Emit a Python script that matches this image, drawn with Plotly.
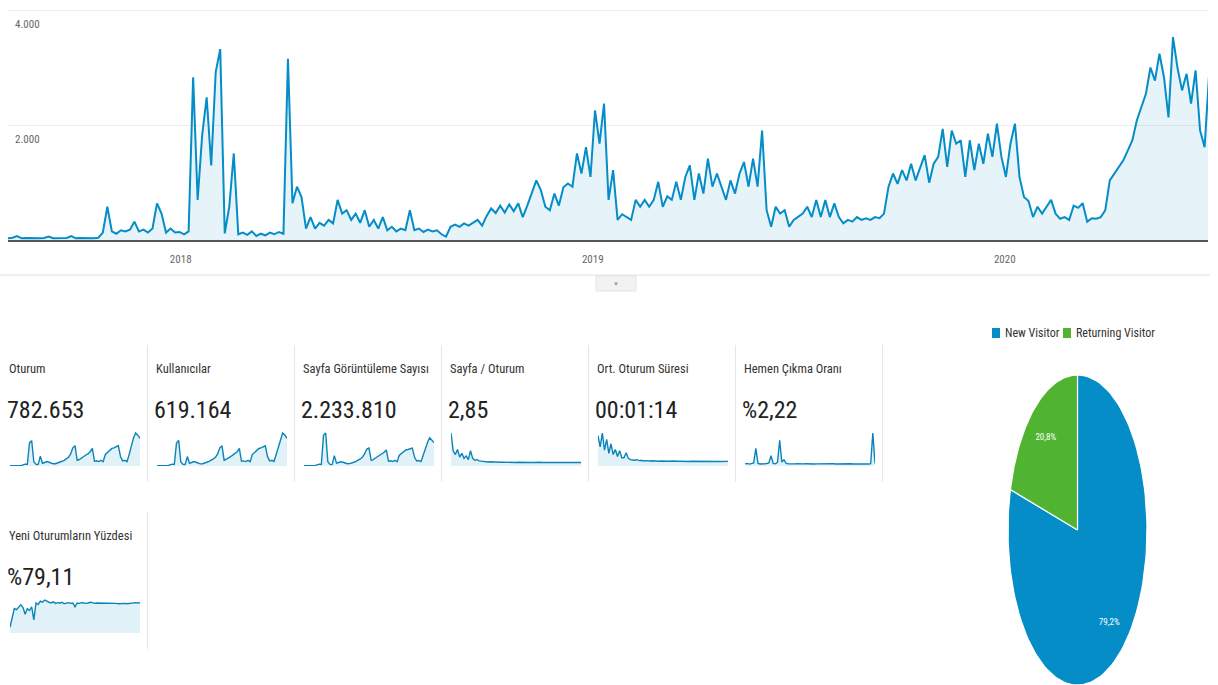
import numpy as np
import pandas as pd
import plotly.graph_objects as go

W, H = 1218, 685
FONT = "Roboto Condensed, Liberation Sans Narrow, Roboto, sans-serif"
BLUE = "#058DC7"
GREEN = "#50B432"

# daily sessions, sampled every 4 days from 2017-08-01
sessions = [
    30, 40, 70, 30, 35, 30, 35, 30, 35, 60,
    30, 35, 30, 35, 70, 30, 35, 30, 35, 30,
    40, 130, 580, 150, 110, 170, 150, 180, 320, 150,
    180, 130, 200, 640, 460, 130, 200, 130, 140, 100,
    150, 2840, 700, 1830, 2490, 1300, 2930, 3330, 115, 580,
    1510, 100, 130, 90, 150, 70, 110, 80, 130, 100,
    140, 110, 3160, 640, 930, 750, 200, 400, 200, 300,
    250, 350, 290, 700, 460, 520, 350, 460, 300, 520,
    230, 350, 200, 400, 170, 230, 150, 200, 170, 520,
    170, 200, 140, 180, 150, 170, 100, 60, 230, 270,
    230, 290, 250, 300, 350, 250, 420, 550, 470, 600,
    480, 620, 500, 640, 400, 600, 810, 1040, 870, 580,
    520, 810, 600, 920, 985, 930, 1510, 1160, 1620, 1100,
    2260, 1680, 2380, 700, 1220, 350, 450, 400, 350, 700,
    580, 700, 580, 700, 1015, 580, 760, 700, 1015, 700,
    1100, 1300, 700, 1160, 810, 1420, 930, 1160, 930, 700,
    1040, 810, 1160, 1360, 930, 1420, 930, 1910, 520, 230,
    580, 460, 520, 230, 350, 400, 460, 580, 400, 700,
    400, 700, 400, 640, 400, 290, 350, 320, 400, 350,
    380, 350, 400, 380, 460, 930, 1160, 980, 1220, 1040,
    1330, 1040, 1270, 1480, 1000, 1330, 1450, 1940, 1275, 1910,
    1680, 1740, 1100, 1740, 1220, 1680, 1330, 1855, 1450, 2030,
    1450, 1100, 1680, 2030, 1100, 750, 680, 400, 580, 460,
    580, 700, 460, 370, 400, 350, 600, 560, 640, 320,
    380, 370, 400, 520, 1040, 1160, 1275, 1390, 1565, 1740,
    2090, 2320, 2550, 3010, 2780, 3250, 2840, 2140, 3540, 3000,
    2610, 2900, 2380, 2960, 1910, 1620, 2900,
]
dates = pd.date_range("2017-08-01", periods=len(sessions), freq="4D")

# scorecards
card_titles = ["Oturum", "Kullanıcılar", "Sayfa Görüntüleme Sayısı", "Sayfa / Oturum",
               "Ort. Oturum Süresi", "Hemen Çıkma Oranı", "Yeni Oturumların Yüzdesi"]
card_values = ["782.653", "619.164", "2.233.810", "2,85", "00:01:14", "%2,22", "%79,11"]

spark_oturum = [25, 30, 25, 30, 35, 30, 110, 170, 140, 2100, 2300, 380, 150, 130, 900, 250,
                320, 400, 340, 270, 200, 210, 260, 340, 430, 520, 640, 800, 1100, 1650, 1850,
                520, 590, 740, 870, 1000, 1100, 1300, 1600, 430, 470, 400, 520, 390, 1050, 1250,
                1420, 1600, 1650, 1780, 1850, 860, 470, 520, 400, 1050, 1800, 2550, 3000, 2800, 2500]
spark_kullanici = [20, 25, 20, 25, 30, 25, 90, 140, 110, 1700, 1900, 300, 120, 110, 700, 200,
                   260, 330, 280, 220, 160, 170, 210, 280, 350, 420, 520, 650, 900, 1350, 1500,
                   420, 480, 600, 700, 820, 900, 1050, 1300, 350, 380, 330, 420, 320, 850, 1000,
                   1150, 1300, 1350, 1450, 1500, 700, 380, 420, 330, 850, 1450, 2050, 2450, 2300, 2050]
spark_goruntuleme = [60, 70, 60, 70, 80, 70, 250, 400, 320, 6500, 7000, 900, 350, 300, 2200, 600,
                     750, 900, 800, 650, 480, 500, 600, 800, 1000, 1200, 1500, 1900, 2600, 3600, 3800,
                     1200, 1350, 1700, 2000, 2300, 2500, 2900, 3400, 1000, 1100, 950, 1200, 900, 2300,
                     2700, 3100, 3400, 3500, 3700, 3800, 1900, 1050, 1150, 950, 2300, 3800, 5000, 6000,
                     5600, 5000]
spark_sayfa_oturum = [26, 12, 9, 13, 7, 10, 6, 8, 5, 12, 6, 4.5, 5, 4, 3.8, 3.5, 3.4, 3.2, 3.3,
                      3.1, 3.0, 2.9, 3.0, 2.9, 3.0, 2.9, 2.9, 2.8, 2.9, 2.8, 2.8, 2.9, 2.8, 2.9,
                      2.8, 2.8, 2.9, 2.8, 2.8, 3.0, 2.9, 2.9, 2.8, 2.9, 2.8, 2.8, 2.8, 2.8, 2.7,
                      2.8, 2.8, 2.9, 2.9, 2.9, 2.9, 2.8, 2.7, 2.7, 2.7, 2.8, 2.8]
spark_sure = [480, 300, 520, 250, 420, 200, 350, 180, 260, 150, 240, 130, 130, 210, 120, 100, 95,
              90, 100, 85, 90, 80, 85, 80, 78, 82, 76, 80, 75, 78, 74, 77, 75, 74, 78, 73, 75, 74,
              76, 73, 74, 75, 72, 74, 73, 74, 72, 73, 74, 75, 72, 73, 74, 72, 73, 71, 72, 73, 72,
              74, 73]
spark_hemen = [2, 2.5, 1.8, 2.2, 3, 17, 2.5, 2, 1.8, 2.2, 2.4, 3, 10, 2.5, 2.2, 3.5, 25, 4, 6,
               2.5, 2.2, 2, 2.4, 2.1, 2.2, 2, 2.3, 2.1, 2.2, 2, 2.1, 2.2, 2, 2.1, 2.2, 2.1, 2,
               2.2, 2.1, 2.3, 2.1, 2.2, 2, 2.1, 2.2, 2.1, 2, 2.2, 2.1, 2.2, 2, 2.1, 2.2, 2.1, 2,
               2.2, 2.1, 2, 2.2, 32, 2.5]
spark_yeni = [15, 45, 65, 62, 70, 75, 68, 50, 65, 60, 70, 35, 80, 76, 85, 82, 88, 84, 82, 80,
              83, 79, 81, 80, 82, 78, 80, 81, 79, 80, 70, 80, 79, 81, 80, 79, 80, 82, 81, 79, 80,
              80, 81, 79, 80, 80, 79, 80, 79, 79, 78, 79, 80, 79, 78, 79, 80, 79, 81, 80, 81]
sparks = [spark_oturum, spark_kullanici, spark_goruntuleme, spark_sayfa_oturum,
          spark_sure, spark_hemen, spark_yeni]

# visitor pie
visitor_types = ["New Visitor", "Returning Visitor"]
visitor_share = [79.2, 20.8]
visitor_colors = [BLUE, GREEN]


def fx(p):
    return p / W


def fy(p):
    return 1 - p / H


fig = go.Figure()

# main time series
fig.add_trace(go.Scatter(x=dates, y=sessions, mode="lines", fill="tozeroy",
                         line=dict(color=BLUE, width=2), fillcolor="rgba(5,141,199,0.10)",
                         showlegend=False, xaxis="x", yaxis="y"))

layout = dict(
    width=W, height=H, margin=dict(l=0, r=0, t=0, b=0),
    paper_bgcolor="white", plot_bgcolor="white", separators=",.",
    font=dict(family=FONT, color="#333"), showlegend=False,
    xaxis=dict(domain=[fx(8), fx(1208)], range=["2017-08-01", "2020-06-29"],
               tickvals=["2018-01-01", "2019-01-01", "2020-01-01"], tickformat="%Y",
               showgrid=False, showline=True, linecolor="#555", linewidth=2,
               ticks="", tickfont=dict(size=11, color="#666"), ticklabelstandoff=8,
               anchor="y", fixedrange=True),
    yaxis=dict(domain=[fy(240), fy(5)], range=[0, 4100], tickvals=[2000, 4000],
               tickformat=",d", showgrid=True, gridcolor="#ececec", zeroline=False,
               ticklabelposition="inside bottom", ticklabelstandoff=4, ticklabelshift=6,
               tickfont=dict(size=11, color="#666"), anchor="x", fixedrange=True),
)

shapes = []
annotations = []

# separator under main chart and tab handle
shapes.append(dict(type="line", xref="paper", yref="paper", x0=0, x1=fx(1210),
                   y0=fy(275), y1=fy(275), line=dict(color="#e0e0e0", width=1)))
shapes.append(dict(type="rect", xref="paper", yref="paper", x0=fx(596), x1=fx(636),
                   y0=fy(291), y1=fy(276), fillcolor="#f2f2f2", line=dict(color="#e3e3e3", width=1)))
annotations.append(dict(x=fx(616), y=fy(283), xref="paper", yref="paper", text="▼",
                        showarrow=False, font=dict(size=6, color="#999")))

# scorecards
card_pos = [(0, 0), (147, 0), (294, 0), (441, 0), (588, 0), (735, 0), (0, 1)]
for k, ((left, row), title, val, spark) in enumerate(zip(card_pos, card_titles, card_values, sparks)):
    top = 0 if row == 0 else 167
    annotations.append(dict(x=fx(left + 7), y=fy(368 + top), xref="paper", yref="paper",
                            text=title, showarrow=False, xanchor="left", yanchor="middle",
                            font=dict(size=12.5, color="#333")))
    annotations.append(dict(x=fx(left + 5), y=fy(410 + top), xref="paper", yref="paper",
                            text=val, showarrow=False, xanchor="left", yanchor="middle",
                            font=dict(size=24, color="#222")))
    shapes.append(dict(type="line", xref="paper", yref="paper", x0=fx(left + 147.5),
                       x1=fx(left + 147.5), y0=fy(345 + top), y1=fy(482 + top),
                       line=dict(color="#e6e6e6", width=1)))
    n = k + 2
    fig.add_trace(go.Scatter(x=list(range(len(spark))), y=spark, mode="lines", fill="tozeroy",
                             line=dict(color="#0a84b8", width=1.4),
                             fillcolor="rgba(5,141,199,0.12)", showlegend=False,
                             xaxis=f"x{n}", yaxis=f"y{n}"))
    layout[f"xaxis{n}"] = dict(domain=[fx(left + 10), fx(left + 140)], range=[0, len(spark) - 1],
                               visible=False, fixedrange=True, anchor=f"y{n}")
    layout[f"yaxis{n}"] = dict(domain=[fy(466 + top), fy(432 + top)], range=[0, max(spark) * 1.03],
                               visible=False, fixedrange=True, anchor=f"x{n}")

# pie (drawn in a stretched axis so it keeps the oval look of the page)
bounds = np.cumsum([0] + visitor_share) / 100.0
for name, color, a, b, share in zip(visitor_types, visitor_colors, bounds[:-1], bounds[1:], visitor_share):
    th = np.linspace(2 * np.pi * a, 2 * np.pi * b, 120)
    xs = np.concatenate([[0], np.sin(th), [0]])
    ys = np.concatenate([[0], np.cos(th), [0]])
    fig.add_trace(go.Scatter(x=xs, y=ys, mode="lines", fill="toself", fillcolor=color,
                             line=dict(color="white", width=1.2), name=name, showlegend=False,
                             hoverinfo="name", xaxis="x9", yaxis="y9"))
    mid = np.pi * (a + b)
    fig.add_trace(go.Scatter(x=[0.75 * np.sin(mid)], y=[0.75 * np.cos(mid)], mode="text",
                             text=[f"{share:.1f}%".replace(".", ",")],
                             textfont=dict(size=9, color="white"), showlegend=False,
                             hoverinfo="skip", xaxis="x9", yaxis="y9"))
layout["xaxis9"] = dict(domain=[fx(1008), fx(1147)], range=[-1, 1], visible=False,
                        fixedrange=True, anchor="y9")
layout["yaxis9"] = dict(domain=[fy(685), fy(375)], range=[-1, 1], visible=False,
                        fixedrange=True, anchor="x9")

# pie legend: coloured square + label
leg_x = [992, 1063]
for name, color, lx in zip(visitor_types, visitor_colors, leg_x):
    shapes.append(dict(type="rect", xref="paper", yref="paper", x0=fx(lx), x1=fx(lx + 8),
                       y0=fy(338), y1=fy(328), fillcolor=color, line=dict(width=0)))
    annotations.append(dict(x=fx(lx + 11), y=fy(333), xref="paper", yref="paper",
                            text=name, showarrow=False, xanchor="left", yanchor="middle",
                            font=dict(size=12, color="#333")))

layout["shapes"] = shapes
layout["annotations"] = annotations
fig.update_layout(**layout)
# drop the default page margin so the figure sits at the window's top-left corner
fig.write_html("out.html", config={"displayModeBar": False},
               post_script="document.body.style.margin='0';")
